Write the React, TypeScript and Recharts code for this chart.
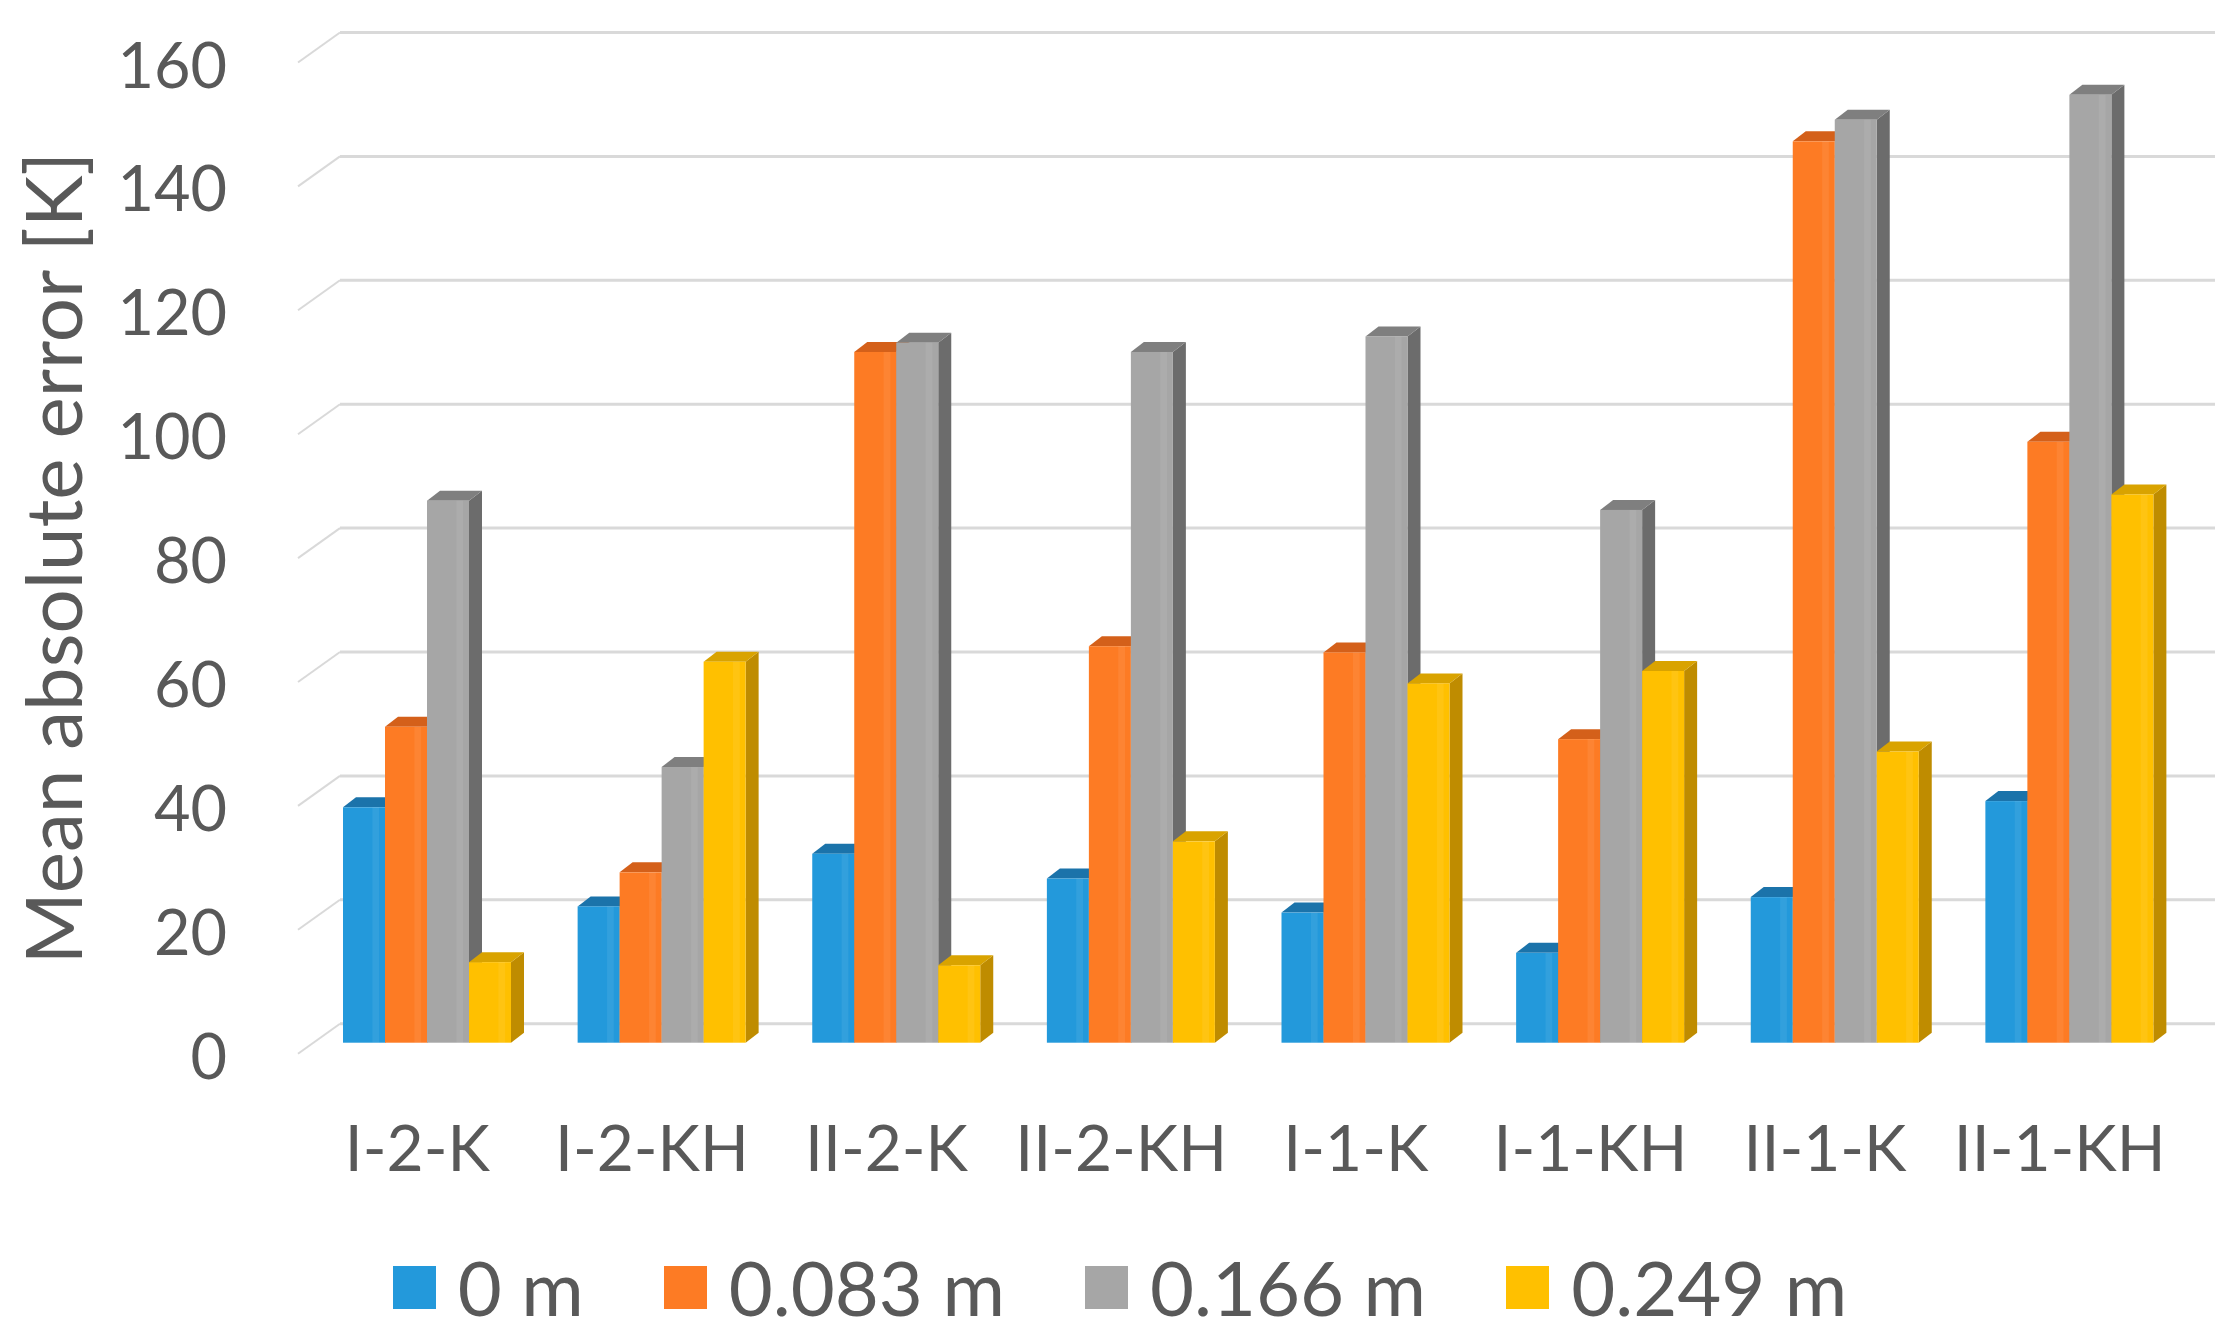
import React from 'react';
import { BarChart, Bar, XAxis, YAxis, CartesianGrid, Legend } from 'recharts';

// values (mean absolute error, K)
const categories = ['I-2-K', 'I-2-KH', 'II-2-K', 'II-2-KH', 'I-1-K', 'I-1-KH', 'II-1-K', 'II-1-KH'];
const at0m = [38, 22, 30.5, 26.5, 21, 14.5, 23.5, 39];
const at083m = [51, 27.5, 111.5, 64, 63, 49, 145.5, 97];
const at166m = [87.5, 44.5, 113, 111.5, 114, 86, 149, 153];
const at249m = [13, 61.5, 12.5, 32.5, 58, 60, 47, 88.5];
const seriesNames = ['0 m', '0.083 m', '0.166 m', '0.249 m'];
const yTicks = [0, 20, 40, 60, 80, 100, 120, 140, 160];

const data = categories.map((name, i) => ({
  name,
  s0: at0m[i],
  s1: at083m[i],
  s2: at166m[i],
  s3: at249m[i],
}));

const FONT = 'Lato, "Open Sans", sans-serif';
const TEXT = '#595959';
const GRID = '#d9d9d9';
const DX = 13; // depth of the fake 3d box
const DY = 10;

const palette = [
  { key: 's0', front: '#2399db', top: '#1b73aa', side: '#176699' },
  { key: 's1', front: '#fd7b24', top: '#d4601a', side: '#c25513' },
  { key: 's2', front: '#a6a6a6', top: '#7f7f7f', side: '#6c6c6c' },
  { key: 's3', front: '#ffc000', top: '#d9a300', side: '#bf8c00' },
];

function Bar3D(props: any) {
  const { x, y, width: w, height: h, front, top, side } = props;
  if (h == null || h <= 0) return null;
  const b = y + h;
  return (
    <g>
      <polygon points={`${x + w},${y} ${x + w + DX},${y - DY} ${x + w + DX},${b - DY} ${x + w},${b}`} fill={side} />
      <polygon points={`${x},${y} ${x + DX},${y - DY} ${x + w + DX},${y - DY} ${x + w},${y}`} fill={top} />
      <rect x={x} y={y} width={w} height={h} fill={front} />
      <rect x={x + w * 0.7} y={y} width={w * 0.16} height={h} fill="#ffffff" opacity={0.07} />
    </g>
  );
}

// back-wall gridline: pushed up and right, with a short slant on the side wall
function WallLine(props: any) {
  const { x1, x2, y1 } = props;
  const g = y1 - 19;
  return (
    <g key={props.key}>
      <line x1={x1 + 30} y1={g} x2={x2} y2={g} stroke={GRID} strokeWidth={3} />
      <line x1={x1 + 30} y1={g} x2={x1 - 12} y2={g + 30} stroke={GRID} strokeWidth={2} />
    </g>
  );
}

const YTick = ({ x, y, payload }: any) => (
  <text x={x - 75} y={y + 36} textAnchor="end" fill={TEXT} fontFamily={FONT} fontSize={63}>
    {payload.value}
  </text>
);

const XTick = ({ x, y, payload }: any) => (
  <text x={x - 10} y={y + 120} textAnchor="middle" fill={TEXT} fontFamily={FONT} fontSize={64}>
    {payload.value}
  </text>
);

const YTitle = ({ viewBox }: any) => {
  const cx = 82;
  const cy = viewBox.y + viewBox.height / 2 + 11;
  return (
    <text x={cx} y={cy} transform={`rotate(-90 ${cx} ${cy})`} textAnchor="middle" fill={TEXT} fontFamily={FONT} fontSize={78}>
      Mean absolute error [K]
    </text>
  );
};

const LegendRow = ({ payload }: any) => (
  <div style={{ display: 'flex', justifyContent: 'center', alignItems: 'center', height: 60, fontFamily: FONT, fontSize: 76, color: TEXT }}>
    {(payload || []).map((p: any, i: number) => (
      <div key={p.value} style={{ display: 'flex', alignItems: 'center', marginLeft: i ? 80 : 0 }}>
        <span style={{ display: 'inline-block', width: 43, height: 43, background: p.color, marginRight: 22 }} />
        <span style={{ lineHeight: '60px', whiteSpace: 'nowrap' }}>{p.value}</span>
      </div>
    ))}
  </div>
);

export default function App() {
  return (
    <div style={{ position: 'absolute', left: 0, top: 0, width: 2240, height: 1342, background: '#fff' }}>
      <BarChart
        width={2240}
        height={1342}
        data={data}
        margin={{ top: 51.5, right: 25, left: 0, bottom: 79.3 }}
        barGap={0}
        barSize={42}
      >
        <CartesianGrid vertical={false} horizontal={(p: any) => <WallLine {...p} />} />
        <XAxis
          dataKey="name"
          axisLine={false}
          tickLine={false}
          height={160}
          padding={{ left: 0, right: 28 }}
          tick={<XTick />}
          interval={0}
        />
        <YAxis
          domain={[0, 160]}
          ticks={yTicks}
          width={310}
          axisLine={false}
          tickLine={false}
          tick={<YTick />}
          label={<YTitle />}
        />
        <Legend
          content={<LegendRow />}
          verticalAlign="bottom"
          wrapperStyle={{ left: 0, top: 1257, width: 2240, height: 60 }}
        />
        {palette.map((c, i) => (
          <Bar
            key={c.key}
            dataKey={c.key}
            name={seriesNames[i]}
            fill={c.front}
            isAnimationActive={false}
            shape={(p: any) => <Bar3D {...p} front={c.front} top={c.top} side={c.side} />}
          />
        ))}
      </BarChart>
    </div>
  );
}
